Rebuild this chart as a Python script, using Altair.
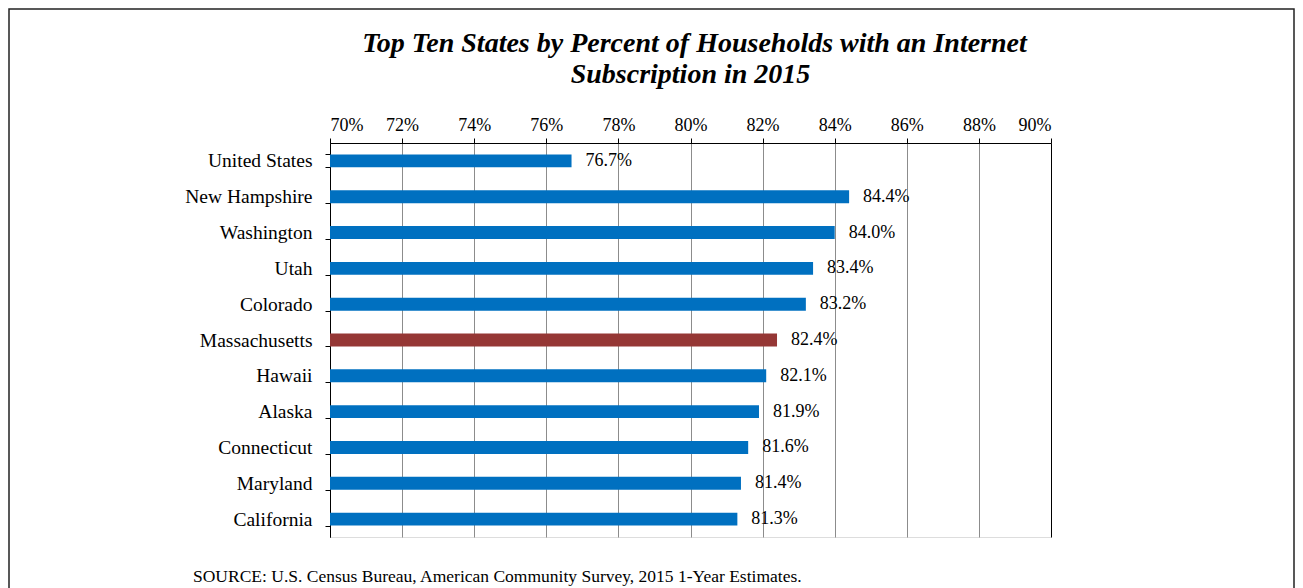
import altair as alt
import pandas as pd

states = ["United States", "New Hampshire", "Washington", "Utah", "Colorado",
          "Massachusetts", "Hawaii", "Alaska", "Connecticut", "Maryland", "California"]
values = [76.7, 84.4, 84.0, 83.4, 83.2, 82.4, 82.1, 81.9, 81.6, 81.4, 81.3]
groups = ["other", "other", "other", "other", "other", "MA", "other", "other", "other", "other", "other"]
tick_values = [70, 72, 74, 76, 78, 80, 82, 84, 86, 88, 90]
title_line1 = "Top Ten States by Percent of Households with an Internet"
title_line2 = "Subscription in 2015"
source_text = "SOURCE: U.S. Census Bureau, American Community Survey, 2015 1-Year Estimates."

df = pd.DataFrame({"state": states, "value": values, "group": groups})

FONT = "Liberation Serif"
W, H = 721, 394

ysc = alt.Scale(paddingInner=0.64, paddingOuter=0.32)
xsc = alt.Scale(domain=[70, 90], nice=False, zero=False)

grid_color = {"condition": {"test": "datum.value == 70 || datum.value == 90", "value": "black"},
              "value": "#8c8c8c"}

base = alt.Chart(df)

bars = base.mark_bar(clip=True).encode(
    x=alt.X("value:Q", scale=xsc,
            axis=alt.Axis(orient="top", values=tick_values, labelExpr="datum.value + '%'",
                          title=None, grid=True, gridColor=grid_color, gridWidth=1,
                          domainColor="black", tickColor="black", tickSize=5,
                          labelPadding=4, labelFont=FONT, labelFontSize=18,
                          labelColor="black")),
    y=alt.Y("state:N", sort=states, scale=ysc,
            axis=alt.Axis(title=None, tickBand="extent", tickSize=5, tickColor="black",
                          domainColor="black", labelPadding=13, labelFont=FONT,
                          labelFontSize=19.5, labelColor="black")),
    color=alt.Color("group:N", scale=alt.Scale(domain=["other", "MA"], range=["#0070C0", "#953735"]),
                    legend=None),
)

labels = base.transform_calculate(
    label="format(datum.value, '.1f') + '%'"
).mark_text(align="left", baseline="middle", dx=14, font=FONT, fontSize=18, color="black").encode(
    x=alt.X("value:Q", scale=xsc),
    y=alt.Y("state:N", sort=states, scale=ysc),
    text="label:N",
)

title_style = dict(align="center", baseline="middle", font=FONT, fontSize=28,
                   fontStyle="italic", fontWeight="bold", color="black", clip=False)
t1 = alt.Chart(pd.DataFrame({"t": [title_line1]})).mark_text(**title_style).encode(
    x=alt.value(W / 2 + 4), y=alt.value(-99), text="t:N")
t2 = alt.Chart(pd.DataFrame({"t": [title_line2]})).mark_text(**title_style).encode(
    x=alt.value(W / 2), y=alt.value(-68), text="t:N")

source = alt.Chart(pd.DataFrame({"t": [source_text]})).mark_text(
    align="left", baseline="middle", font=FONT, fontSize=17.5, color="black", clip=False
).encode(x=alt.value(-137), y=alt.value(434), text="t:N")

frame = alt.Chart(pd.DataFrame({"t": [0]})).mark_rect(
    fill=None, stroke="#222222", strokeWidth=1.5, clip=False
).encode(x=alt.value(-321), x2=alt.value(964), y=alt.value(-134), y2=alt.value(480))

chart = alt.layer(bars, labels, t1, t2, source, frame).properties(
    width=W, height=H,
    autosize=alt.AutoSizeParams(type="none"),
    padding={"left": 322, "top": 135, "right": 244, "bottom": 51},
).configure_view(stroke="black", strokeWidth=1).configure(background="white")

chart.save("out.html", embed_options={"renderer": "svg", "actions": False})
